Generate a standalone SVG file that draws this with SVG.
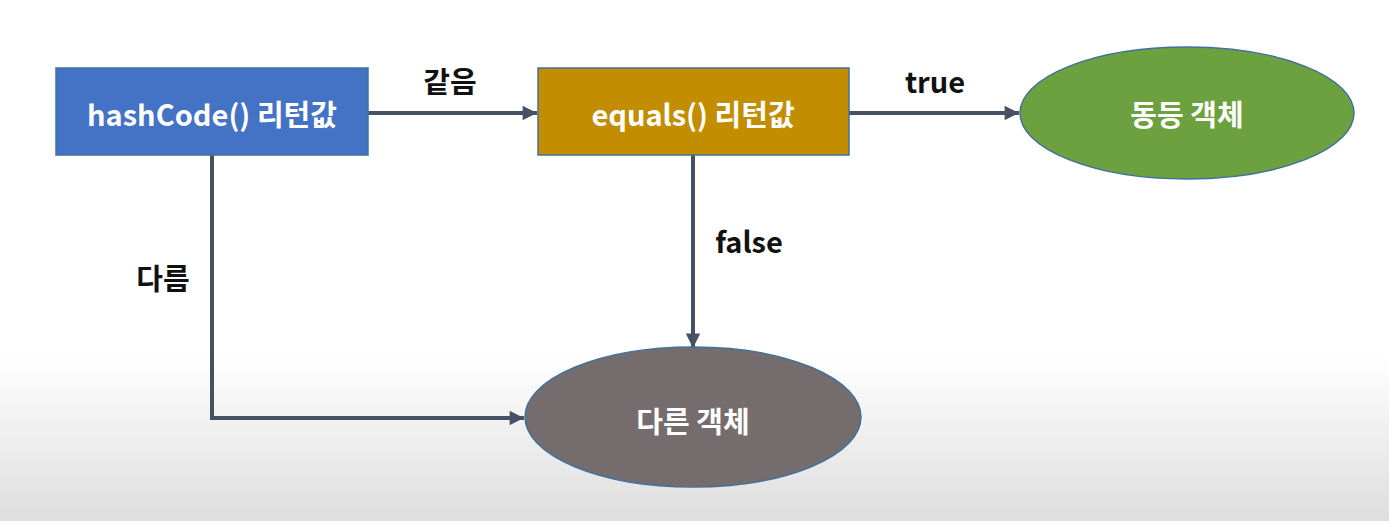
<svg xmlns="http://www.w3.org/2000/svg" width="1389" height="521" viewBox="0 0 1389 521">
  <style>
    .node-text { font-family: "Noto Sans CJK KR", "Noto Sans", sans-serif; font-weight: 700; font-size: 29px; fill: #ffffff; text-anchor: middle; dominant-baseline: central; }
    .label { font-family: "Noto Sans CJK KR", "Noto Sans", sans-serif; font-weight: 700; font-size: 29px; fill: #111111; text-anchor: middle; dominant-baseline: central; }
    .conn { fill: none; stroke: #465264; stroke-width: 4; }
    .shape { stroke: #41719C; stroke-width: 1.5; }
  </style>
  <defs>
    <linearGradient id="bg" x1="0" y1="0" x2="0" y2="1">
      <stop offset="0" stop-color="#ffffff"/>
      <stop offset="0.68" stop-color="#ffffff"/>
      <stop offset="1" stop-color="#dedede"/>
    </linearGradient>
    <marker id="arrow" viewBox="0 0 10 10" refX="10" refY="5" markerWidth="4" markerHeight="3.6" orient="auto" markerUnits="strokeWidth">
      <path d="M0,0 L10,5 L0,10 z" fill="#465264"/>
    </marker>
  </defs>
  <rect x="0" y="0" width="1389" height="521" fill="url(#bg)"/>

  <g id="connectors">
    <line class="conn" x1="368" y1="113" x2="537" y2="113" marker-end="url(#arrow)"/>
    <line class="conn" x1="849" y1="113" x2="1019" y2="113" marker-end="url(#arrow)"/>
    <line class="conn" x1="693" y1="155" x2="693" y2="348" marker-end="url(#arrow)"/>
    <polyline class="conn" points="212,155 212,418 524,418" marker-end="url(#arrow)"/>
    <text class="label" x="450" y="80">같음</text>
    <text class="label" x="935" y="80">true</text>
    <text class="label" x="749" y="240">false</text>
    <text class="label" x="163" y="277">다름</text>
  </g>

  <g id="hashcode">
    <rect class="shape" x="56" y="68" width="312" height="87" fill="#4472C4"/>
    <text class="node-text" x="212" y="113">hashCode() 리턴값</text>
  </g>
  <g id="equals">
    <rect class="shape" x="538" y="68" width="311" height="87" fill="#C28D00"/>
    <text class="node-text" x="693" y="113">equals() 리턴값</text>
  </g>
  <g id="same-object">
    <ellipse class="shape" cx="1187" cy="113" rx="167" ry="66" fill="#6DA13F"/>
    <text class="node-text" x="1187" y="113">동등 객체</text>
  </g>
  <g id="different-object">
    <ellipse class="shape" cx="693" cy="417" rx="168" ry="70" fill="#756D6D"/>
    <text class="node-text" x="693" y="420">다른 객체</text>
  </g>
</svg>
